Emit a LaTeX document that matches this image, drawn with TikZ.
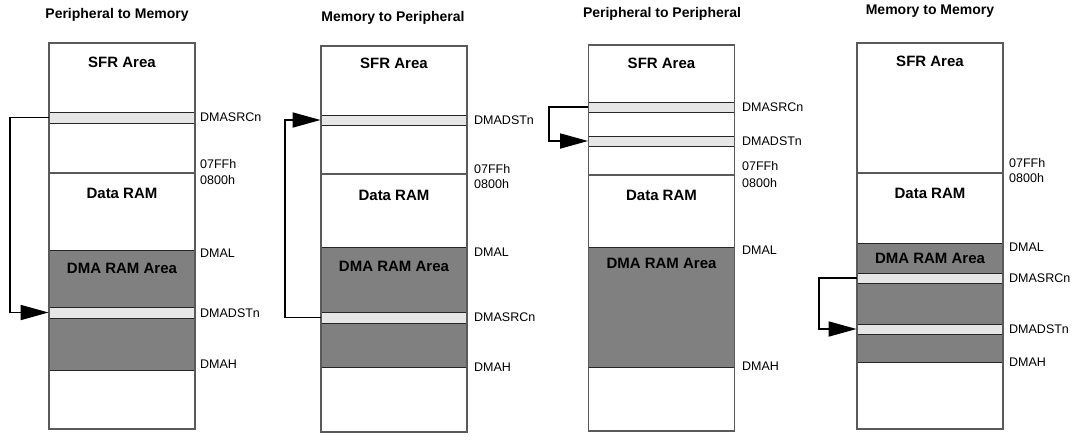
\documentclass[tikz,border=0pt]{standalone}
\usepackage{fontspec}
\setmainfont{Liberation Sans}
\usetikzlibrary{arrows.meta}
\definecolor{dmagray}{RGB}{128,128,128}
\definecolor{bandgray}{RGB}{230,230,230}
\definecolor{edgegray}{RGB}{90,90,90}
\begin{document}
\begin{tikzpicture}[x=1pt,y=-1pt,
  membox/.style={fill=white,inner sep=0pt,minimum width=146pt},
  outline/.style={draw=edgegray,line width=1.5pt},
  dmablk/.style={draw=black!85,line width=0.9pt,fill=dmagray,inner sep=0pt,minimum width=146pt},
  bandbox/.style={draw=black!85,line width=0.9pt,fill=bandgray,inner sep=0pt,minimum width=146pt},
  sepline/.style={draw=edgegray,line width=1.2pt},
  ttl/.style={font=\fontsize{14}{16}\selectfont\bfseries,inner sep=0pt},
  area/.style={font=\fontsize{15}{17}\selectfont\bfseries,inner sep=0pt},
  lbl/.style={font=\fontsize{12.5}{14}\selectfont,anchor=west,inner sep=0pt},
  flow/.style={line width=1.8pt,-{Triangle[length=28pt,width=15pt]}}
]
\useasboundingbox (0,0) rectangle (1082,440);

% ---------- Panel 1: Peripheral to Memory ----------
\node[ttl] (t1) at (117,15) {Peripheral to Memory};
\node[membox,minimum height=386pt] (b1) at (122,236) {};
\node[dmablk,minimum height=120pt] (g1) at (122,310) {};
\node[bandbox,minimum height=11pt] (s1) at (122,117.5) {};
\node[bandbox,minimum height=11pt] (d1) at (122,312.5) {};
\draw[sepline] (b1.west |- 0,173) -- (b1.east |- 0,173);
\draw[outline] (b1.north west) rectangle (b1.south east);
\node[area] (sfr1) at (122,62) {SFR Area};
\node[area] (ram1) at (122,193) {Data RAM};
\node[area] (dma1) at (122,268) {DMA RAM Area};
\node[lbl] (l1a) at (200,117) {DMASRCn};
\node[lbl] (l1b) at (200,164) {07FFh};
\node[lbl] (l1c) at (200,180) {0800h};
\node[lbl] (l1d) at (200,253) {DMAL};
\node[lbl] (l1e) at (200,313) {DMADSTn};
\node[lbl] (l1f) at (200,364) {DMAH};
\coordinate (c1) at (10,0);
\draw[flow] (s1.west) -- (s1.west -| c1) |- (d1.west);

% ---------- Panel 2: Memory to Peripheral ----------
\node[ttl] (t2) at (393,18) {Memory to Peripheral};
\node[membox,minimum height=386pt] (b2) at (394,239) {};
\node[dmablk,minimum height=120pt] (g2) at (394,307) {};
\node[bandbox,minimum height=10pt] (d2) at (394,120) {};
\node[bandbox,minimum height=11pt] (s2) at (394,317.5) {};
\draw[sepline] (b2.west |- 0,174) -- (b2.east |- 0,174);
\draw[outline] (b2.north west) rectangle (b2.south east);
\node[area] (sfr2) at (394,63) {SFR Area};
\node[area] (ram2) at (394,195) {Data RAM};
\node[area] (dma2) at (394,266) {DMA RAM Area};
\node[lbl] (l2a) at (474,120) {DMADSTn};
\node[lbl] (l2b) at (474,169) {07FFh};
\node[lbl] (l2c) at (474,184) {0800h};
\node[lbl] (l2d) at (474,252) {DMAL};
\node[lbl] (l2e) at (474,317) {DMASRCn};
\node[lbl] (l2f) at (474,367) {DMAH};
\coordinate (c2) at (285,0);
\draw[flow] (s2.west) -- (s2.west -| c2) |- (d2.west);

% ---------- Panel 3: Peripheral to Peripheral ----------
\node[ttl] (t3) at (662,14) {Peripheral to Peripheral};
\node[membox,minimum height=386pt] (b3) at (661.5,238) {};
\node[dmablk,minimum height=120pt] (g3) at (661.5,307) {};
\node[bandbox,minimum height=10pt] (s3) at (661.5,107) {};
\node[bandbox,minimum height=10pt] (d3) at (661.5,141) {};
\draw[sepline] (b3.west |- 0,175) -- (b3.east |- 0,175);
\draw[outline] (b3.north west) rectangle (b3.south east);
\node[area] (sfr3) at (661.5,63) {SFR Area};
\node[area] (ram3) at (661.5,195) {Data RAM};
\node[area] (dma3) at (661.5,263) {DMA RAM Area};
\node[lbl] (l3a) at (742,107) {DMASRCn};
\node[lbl] (l3b) at (742,141) {DMADSTn};
\node[lbl] (l3c) at (742,166) {07FFh};
\node[lbl] (l3d) at (742,183) {0800h};
\node[lbl] (l3e) at (742,250) {DMAL};
\node[lbl] (l3f) at (742,366) {DMAH};
\coordinate (c3) at (549,0);
\draw[flow] (s3.west) -- (s3.west -| c3) |- (d3.west);

% ---------- Panel 4: Memory to Memory ----------
\node[ttl] (t4) at (930,11) {Memory to Memory};
\node[membox,minimum height=386pt] (b4) at (930,236) {};
\node[dmablk,minimum height=119pt] (g4) at (930,302.5) {};
\node[bandbox,minimum height=10pt] (s4) at (930,278) {};
\node[bandbox,minimum height=10pt] (d4) at (930,329) {};
\draw[sepline] (b4.west |- 0,173) -- (b4.east |- 0,173);
\draw[outline] (b4.north west) rectangle (b4.south east);
\node[area] (sfr4) at (930,61) {SFR Area};
\node[area] (ram4) at (930,193) {Data RAM};
\node[area] (dma4) at (930,258) {DMA RAM Area};
\node[lbl] (l4a) at (1009,163) {07FFh};
\node[lbl] (l4b) at (1009,178) {0800h};
\node[lbl] (l4c) at (1009,247) {DMAL};
\node[lbl] (l4d) at (1009,278) {DMASRCn};
\node[lbl] (l4e) at (1009,329) {DMADSTn};
\node[lbl] (l4f) at (1009,362) {DMAH};
\coordinate (c4) at (819,0);
\draw[flow] (s4.west) -- (s4.west -| c4) |- (d4.west);
\end{tikzpicture}
\end{document}
